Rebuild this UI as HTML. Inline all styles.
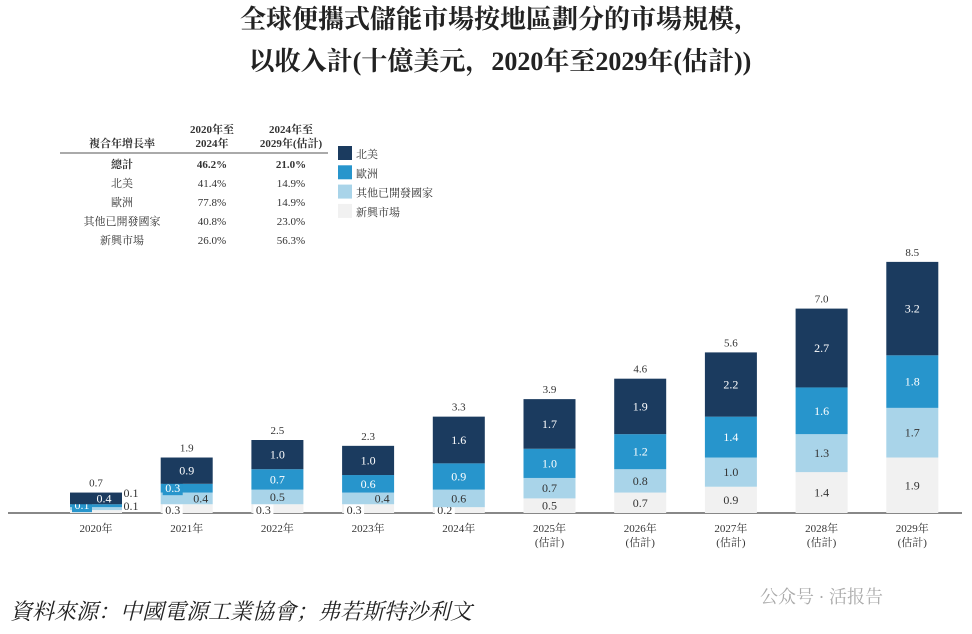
<!DOCTYPE html>
<html><head><meta charset="utf-8"><style>
body{margin:0;background:#fff;}
svg text{font-family:"Liberation Serif","Noto Serif CJK SC",serif;}
</style></head><body>
<svg width="972" height="629" viewBox="0 0 972 629">
<text x="500" y="28" text-anchor="middle" font-size="26" font-weight="bold" fill="#222">全球便攜式儲能市場按地區劃分的市場規模，</text>
<text x="500" y="70" text-anchor="middle" font-size="26" font-weight="bold" fill="#222">以收入計(十億美元，2020年至2029年(估計))</text>
<g font-size="11" fill="#333">
<text x="212" y="133" text-anchor="middle" font-weight="bold">2020年至</text>
<text x="212" y="147" text-anchor="middle" font-weight="bold">2024年</text>
<text x="291" y="133" text-anchor="middle" font-weight="bold">2024年至</text>
<text x="291" y="147" text-anchor="middle" font-weight="bold">2029年(估計)</text>
<text x="122" y="147" text-anchor="middle" font-weight="bold">複合年增長率</text>
<line x1="60" y1="153" x2="328" y2="153" stroke="#555" stroke-width="1"/>
<g id="trows"></g>
</g>
<g id="legend" font-size="11" fill="#333"></g>
<line x1="8" y1="513" x2="962" y2="513" stroke="#888" stroke-width="2"/>
<g id="bars"></g>
<text x="10" y="619" font-size="22" font-style="italic" fill="#222">資料來源：中國電源工業協會；弗若斯特沙利文</text>
<text x="760" y="603" font-size="18" fill="#aaa" font-family="Liberation Sans,Noto Sans CJK SC,sans-serif">公众号 · 活报告</text>
</svg>
<script>
const years=["2020年","2021年","2022年","2023年","2024年","2025年","2026年","2027年","2028年","2029年"];
const estimated=[false,false,false,false,false,true,true,true,true,true];
const emerging=[0.1,0.3,0.3,0.3,0.2,0.5,0.7,0.9,1.4,1.9];
const otherDeveloped=[0.1,0.4,0.5,0.4,0.6,0.7,0.8,1.0,1.3,1.7];
const europe=[0.1,0.3,0.7,0.6,0.9,1.0,1.2,1.4,1.6,1.8];
const northAmerica=[0.4,0.9,1.0,1.0,1.6,1.7,1.9,2.2,2.7,3.2];
const totals=[0.7,1.9,2.5,2.3,3.3,3.9,4.6,5.6,7.0,8.5];
const tableLabels=["總計","北美","歐洲","其他已開發國家","新興市場"];
const cagr1=["46.2%","41.4%","77.8%","40.8%","26.0%"];
const cagr2=["21.0%","14.9%","14.9%","23.0%","56.3%"];
const legendLabels=["北美","歐洲","其他已開發國家","新興市場"];
const NS="http://www.w3.org/2000/svg";
function mk(t,a,p){const e=document.createElementNS(NS,t);for(const k in a)e.setAttribute(k,a[k]);p.appendChild(e);return e;}
const tr=document.getElementById('trows');
tableLabels.forEach((l,i)=>{const y=168+i*19;const w=i==0?'bold':'normal';
 let t=mk('text',{x:122,y:y,'text-anchor':'middle','font-weight':w},tr);t.textContent=l;
 
 t=mk('text',{x:212,y:y,'text-anchor':'middle','font-weight':w},tr);t.textContent=cagr1[i];
 
 t=mk('text',{x:291,y:y,'text-anchor':'middle','font-weight':w},tr);t.textContent=cagr2[i];
 });
const colors=["#1b3b5f","#2795cc","#a9d4e9","#f1f1f1"];
const lg=document.getElementById('legend');
legendLabels.forEach((l,i)=>{const y=146+i*19.3;
 const r=mk('rect',{x:338,y:y,width:14,height:14,fill:colors[i]},lg);
 
 const t=mk('text',{x:356,y:y+12},lg);t.textContent=l;
 });
const base=513,unit=29.2,bw=52;
const xc=i=>96+i*90.7, yv=v=>base-v*unit;
const g=document.getElementById('bars');
const series=[emerging,otherDeveloped,europe,northAmerica];
const scol=[colors[3],colors[2],colors[1],colors[0]];
const tcol=["#333","#333","#fff","#fff"];
years.forEach((yr,i)=>{let cum=0;const x=xc(i);
 const tiny=totals[i]<1;
 series.forEach((s,k)=>{const v=s[i];const y0=yv(cum),y1=yv(cum+v);
  const r=mk('rect',{x:x-bw/2,y:y1,width:bw,height:y0-y1,fill:scol[k]},g);
  
  const h=y0-y1;let lx=x,ly=(y0+y1)/2+4,fill=tcol[k],bg=null;
  if(tiny){
   if(k==0){lx=x+bw/2+9;ly=510;fill='#333';}
   else if(k==1){lx=x+bw/2+9;ly=497;fill='#333';}
   else if(k==2){lx=x-bw/2+12;ly=y0+2;bg=colors[1];}
   else {lx=x+8;ly=(y0+y1)/2+4;}
  } else if(h<14){
   if(k==0){lx=x-bw/2+12;ly=base+1;bg='#fff';fill='#333';}
   else if(k==1){lx=x+bw/2-12;}
   else if(k==2){lx=x-bw/2+12;bg=colors[1];}
  }
  if(bg){const b=mk('rect',{x:lx-10,y:ly-11,width:20,height:14,fill:bg},g);
   }
  const t=mk('text',{x:lx,y:ly,'text-anchor':'middle','font-size':12,fill:fill},g);
  t.textContent=v.toFixed(1);
  
  cum+=v;});
 let t=mk('text',{x:x,y:yv(cum)-6,'text-anchor':'middle','font-size':11,fill:'#333'},g);t.textContent=totals[i].toFixed(1);
 
 t=mk('text',{x:x,y:532,'text-anchor':'middle','font-size':11,fill:'#333'},g);t.textContent=yr;
 
 if(estimated[i]){t=mk('text',{x:x,y:546,'text-anchor':'middle','font-size':11,fill:'#333'},g);t.textContent='(估計)';
 }
});
</script>
</body></html>
